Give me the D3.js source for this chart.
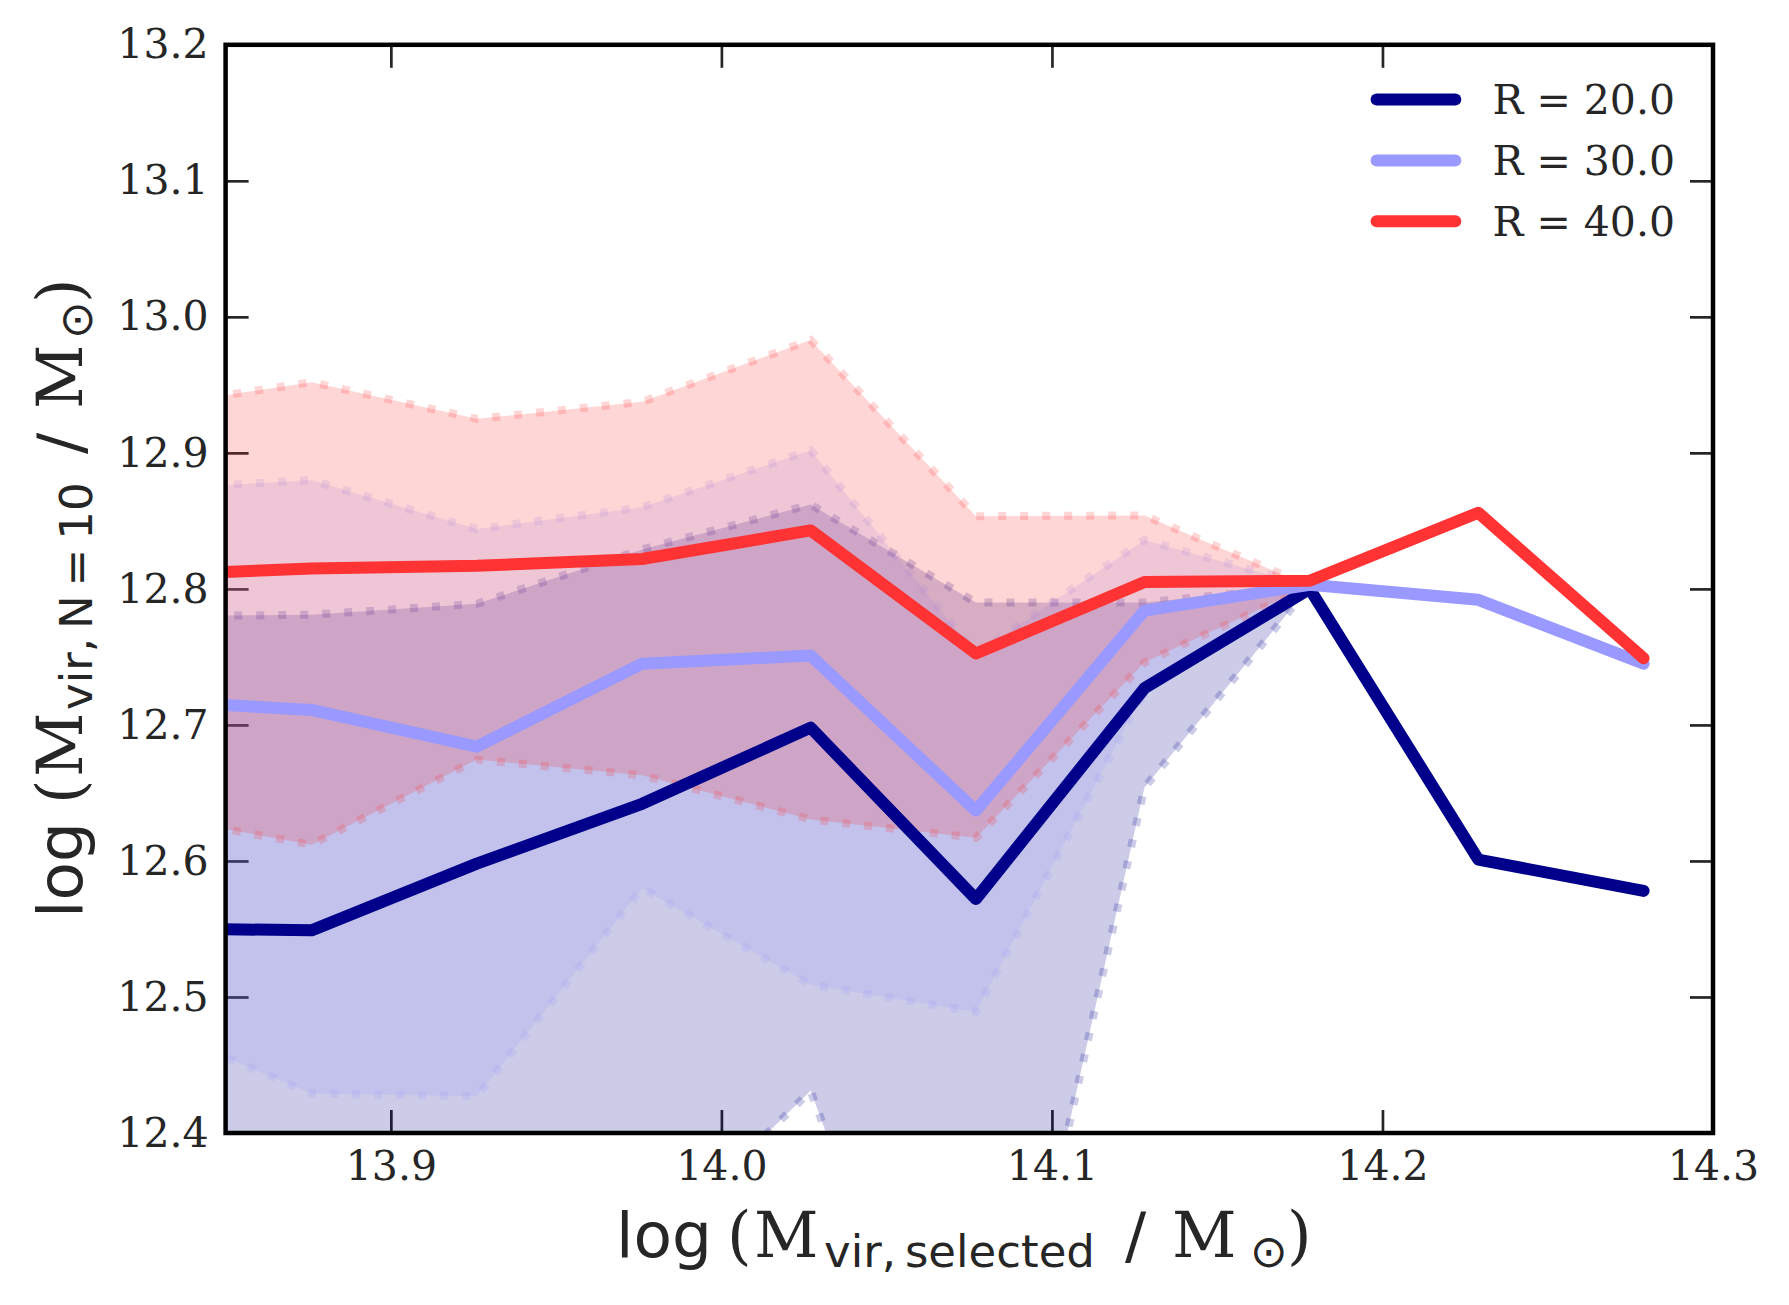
<!DOCTYPE html>
<html>
<head>
<meta charset="utf-8">
<script src="https://cdn.jsdelivr.net/npm/d3@7"></script>
<style>
  html, body { margin: 0; padding: 0; background: #ffffff; }
  svg { display: block; }
</style>
</head>
<body>
<svg id="chart" width="1789" height="1305"></svg>
<script>
// ---------------- DATA ----------------
const xValues = [13.826, 13.876, 13.926, 13.976, 14.027, 14.077, 14.128, 14.178, 14.229, 14.279];
const seriesNames = ["R = 20.0", "R = 30.0", "R = 40.0"];

const medianR20 = [12.5505, 12.549, 12.598, 12.642, 12.698, 12.572, 12.727, 12.800, 12.601, 12.578];
const lowR20    = [12.25, 12.25, 12.26, 12.31, 12.431, 12.10, 12.654, 12.802];
const highR20   = [12.780, 12.781, 12.789, 12.829, 12.862, 12.790, 12.790, 12.802];

const medianR30 = [12.718, 12.711, 12.684, 12.745, 12.751, 12.637, 12.784, 12.803, 12.792, 12.745];
const lowR30    = [12.480, 12.429, 12.427, 12.580, 12.509, 12.489, 12.725, 12.802];
const highR30   = [12.873, 12.880, 12.844, 12.860, 12.902, 12.752, 12.836, 12.802];

const medianR40 = [12.810, 12.815, 12.817, 12.822, 12.843, 12.7525, 12.805, 12.806, 12.856, 12.749];
const lowR40    = [12.634, 12.612, 12.6745, 12.663, 12.6305, 12.617, 12.746, 12.802];
const highR40   = [12.9335, 12.952, 12.925, 12.9375, 12.983, 12.8535, 12.854, 12.802];

const xTicks = [13.9, 14.0, 14.1, 14.2, 14.3];
const yTicks = [12.4, 12.5, 12.6, 12.7, 12.8, 12.9, 13.0, 13.1, 13.2];
const xDomain = [13.85, 14.3];
const yDomain = [12.4, 13.2];

// ---------------- STYLE ----------------
const colors = ["#00008B", "#9999FF", "#FF3333"];
const textColor = "#262626";
const serif = "'DejaVu Serif', serif";
const sans = "'DejaVu Sans', sans-serif";

const W = 1789, H = 1305;
const plot = { left: 225.6, right: 1713, top: 44.8, bottom: 1133 };

const svg = d3.select("#chart");
svg.append("rect").attr("width", W).attr("height", H).attr("fill", "#ffffff");

const x = d3.scaleLinear().domain(xDomain).range([plot.left, plot.right]);
const y = d3.scaleLinear().domain(yDomain).range([plot.bottom, plot.top]);

svg.append("defs").append("clipPath").attr("id", "clip")
  .append("rect")
  .attr("x", plot.left).attr("y", plot.top)
  .attr("width", plot.right - plot.left).attr("height", plot.bottom - plot.top);

const fmt = d3.format(".1f");
const tickLen = 23;

function styleAxis(g, withText) {
  g.select(".domain").remove();
  g.attr("font-family", serif).attr("font-size", 41);
  g.selectAll(".tick line").attr("stroke", textColor).attr("stroke-width", 2.7);
  g.selectAll(".tick text").attr("fill", textColor);
  if (!withText) g.selectAll(".tick text").remove();
}

// axes (ticks drawn beneath the bands, like the reference)
svg.append("g").attr("transform", `translate(0,${plot.bottom})`)
  .call(d3.axisBottom(x).tickValues(xTicks).tickFormat(fmt).tickSizeInner(-tickLen).tickSizeOuter(0).tickPadding(18))
  .call(g => styleAxis(g, true));
svg.append("g").attr("transform", `translate(0,${plot.top})`)
  .call(d3.axisTop(x).tickValues(xTicks).tickFormat(fmt).tickSizeInner(-tickLen).tickSizeOuter(0))
  .call(g => styleAxis(g, false));
svg.append("g").attr("transform", `translate(${plot.left},0)`)
  .call(d3.axisLeft(y).tickValues(yTicks).tickFormat(fmt).tickSizeInner(-tickLen).tickSizeOuter(0).tickPadding(17))
  .call(g => styleAxis(g, true));
svg.append("g").attr("transform", `translate(${plot.right},0)`)
  .call(d3.axisRight(y).tickValues(yTicks).tickFormat(fmt).tickSizeInner(-tickLen).tickSizeOuter(0))
  .call(g => styleAxis(g, false));

const series = [
  { name: seriesNames[0], color: colors[0], med: medianR20, lo: lowR20, hi: highR20 },
  { name: seriesNames[1], color: colors[1], med: medianR30, lo: lowR30, hi: highR30 },
  { name: seriesNames[2], color: colors[2], med: medianR40, lo: lowR40, hi: highR40 }
];

// bands
const bandG = svg.append("g").attr("clip-path", "url(#clip)");
series.forEach(s => {
  const idx = d3.range(s.lo.length);
  const area = d3.area()
    .x(i => x(xValues[i]))
    .y0(i => y(s.lo[i]))
    .y1(i => y(s.hi[i]));
  bandG.append("path").datum(idx).attr("d", area)
    .attr("fill", s.color).attr("fill-opacity", 0.2).attr("stroke", "none");
  [s.hi, s.lo].forEach(arr => {
    const edge = d3.line().x(i => x(xValues[i])).y(i => y(arr[i]));
    bandG.append("path").datum(idx).attr("d", edge)
      .attr("fill", "none")
      .attr("stroke", s.color).attr("stroke-opacity", 0.2)
      .attr("stroke-width", 8)
      .attr("stroke-dasharray", "8,14");
  });
});

// median lines
const lineG = svg.append("g").attr("clip-path", "url(#clip)");
series.forEach(s => {
  const idx = d3.range(s.med.length);
  const line = d3.line().x(i => x(xValues[i])).y(i => y(s.med[i]));
  lineG.append("path").datum(idx).attr("d", line)
    .attr("fill", "none").attr("stroke", s.color)
    .attr("stroke-width", 12)
    .attr("stroke-linecap", "round").attr("stroke-linejoin", "round");
});

// frame
svg.append("rect")
  .attr("x", plot.left).attr("y", plot.top)
  .attr("width", plot.right - plot.left).attr("height", plot.bottom - plot.top)
  .attr("fill", "none").attr("stroke", "#000000").attr("stroke-width", 4.5);

// legend
const legend = svg.append("g");
const legendLineX0 = 1376.6, legendLineX1 = 1455.3, legendTextX = 1492.5;
const legendY0 = 99.5, legendStep = 60.9;
series.forEach((s, k) => {
  const ly = legendY0 + k * legendStep;
  legend.append("line")
    .attr("x1", legendLineX0).attr("x2", legendLineX1)
    .attr("y1", ly).attr("y2", ly)
    .attr("stroke", s.color).attr("stroke-width", 12).attr("stroke-linecap", "round");
  legend.append("text")
    .attr("x", legendTextX).attr("y", ly + 14.5)
    .attr("font-family", serif).attr("font-size", 41).attr("fill", textColor)
    .text(s.name);
});

// axis labels (mathtext-like), pieces placed along the label direction
function mathLabel(g, parts) {
  const t = g.append("text").attr("fill", textColor).attr("font-size", 63);
  parts.forEach(p => {
    t.append("tspan")
      .attr("x", p.at)
      .attr("y", p.sub ? 10 : 0)
      .attr("font-family", p.serifFont ? serif : sans)
      .attr("font-size", p.sub ? 45 : 63)
      .text(p.txt);
  });
  return t;
}

const xl = svg.append("g").attr("transform", `translate(0,1256.7)`);
mathLabel(xl, [
  { txt: "log", at: 616 },
  { txt: "(", at: 727, serifFont: true },
  { txt: "M", at: 754, serifFont: true },
  { txt: "vir,\u2009selected", at: 824, sub: true },
  { txt: "/", at: 1125 },
  { txt: "M", at: 1172, serifFont: true },
  { txt: "\u2299", at: 1250, sub: true },
  { txt: ")", at: 1287, serifFont: true }
]);

// rotated: text-x = -screenY
const yl = svg.append("g").attr("transform", `translate(82,0) rotate(-90)`);
mathLabel(yl, [
  { txt: "log", at: -918 },
  { txt: "(", at: -804, serifFont: true },
  { txt: "M", at: -777, serifFont: true },
  { txt: "vir,\u2009N\u2009=\u200910", at: -710, sub: true },
  { txt: "/", at: -454 },
  { txt: "M", at: -409, serifFont: true },
  { txt: "\u2299", at: -339, sub: true },
  { txt: ")", at: -303, serifFont: true }
]);
</script>
</body>
</html>
